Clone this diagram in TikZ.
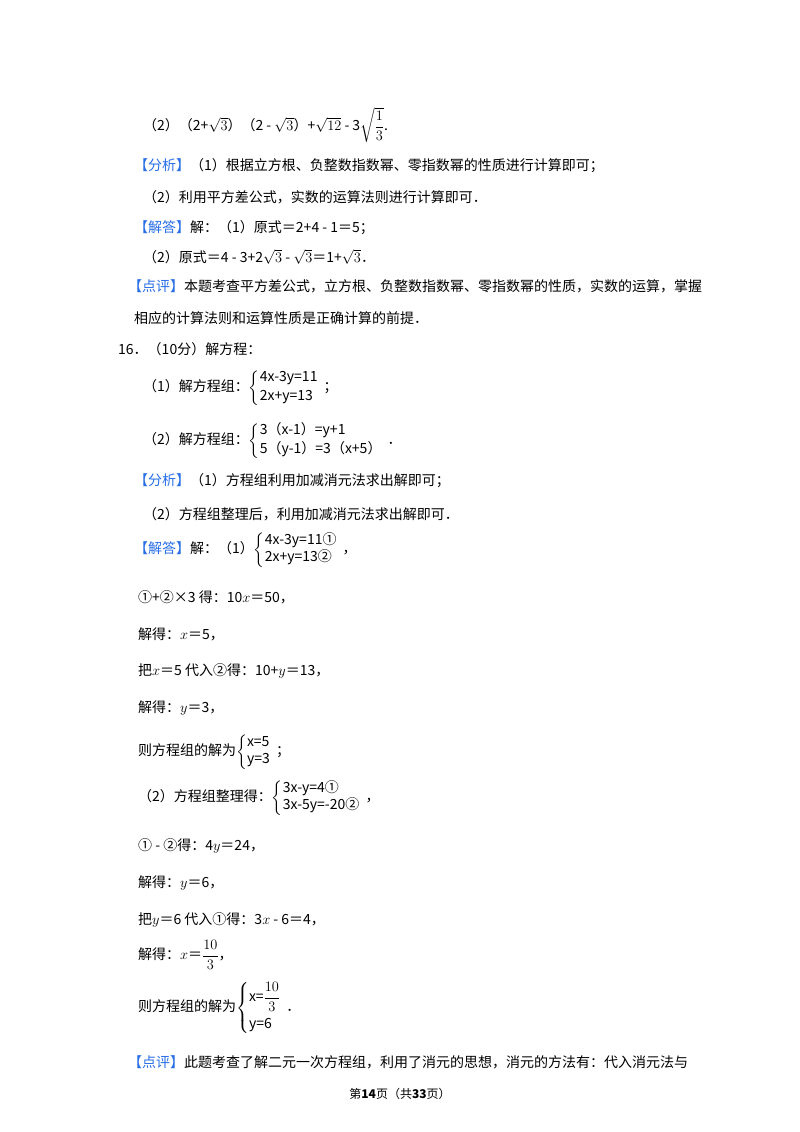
\documentclass[tikz,border=0pt]{standalone}
\usepackage{amsmath}
\usepackage{fontspec}
\setmainfont{Noto Sans CJK SC}
\definecolor{hl}{RGB}{40,110,230}
\begin{document}
\begin{tikzpicture}[x=1pt,y=-1pt,
  t/.style={anchor=west,inner sep=0pt,font=\fontsize{14}{17}\selectfont}]
\useasboundingbox[fill=white] (0,0) rectangle (800,1132);
\newcommand{\hb}[1]{\textcolor{hl}{【#1】}}
\node[t] (l1) at (143,125) {（2）（2+$\sqrt{3}$）（2 - $\sqrt{3}$）+$\sqrt{12}$ - 3$\sqrt{\dfrac{1}{3}}$.};
\node[t] (l2) at (134,166) {\hb{分析}（1）根据立方根、负整数指数幂、零指数幂的性质进行计算即可；};
\node[t] (l3) at (143,197) {（2）利用平方差公式，实数的运算法则进行计算即可．};
\node[t] (l4) at (134,228) {\hb{解答}解：（1）原式＝2+4 - 1＝5；};
\node[t] (l5) at (143,257) {（2）原式＝4 - 3+2$\sqrt{3}$ - $\sqrt{3}$＝1+$\sqrt{3}$．};
\node[t] (l6) at (128,286) {\hb{点评}本题考查平方差公式，立方根、负整数指数幂、零指数幂的性质，实数的运算，掌握};
\node[t] (l7) at (134,318) {相应的计算法则和运算性质是正确计算的前提．};
\node[t] (l8) at (118,349) {16．（10分）解方程：};
\node[t] (l9) at (143,388) {（1）解方程组：$\left\{\begin{array}{@{}l}\text{4x-3y=11}\\[2pt] \text{2x+y=13}\end{array}\right.$；};
\node[t] (l10) at (143,441) {（2）解方程组：$\left\{\begin{array}{@{}l}\text{3（x-1）=y+1}\\[2pt] \text{5（y-1）=3（x+5）}\end{array}\right.$．};
\node[t] (l11) at (134,481) {\hb{分析}（1）方程组利用加减消元法求出解即可；};
\node[t] (l12) at (143,514) {（2）方程组整理后，利用加减消元法求出解即可．};
\node[t] (l13) at (134,550) {\hb{解答}解：（1）$\left\{\begin{array}{@{}l}\text{4x-3y=11①}\\ \text{2x+y=13②}\end{array}\right.$，};
\node[t] (l14) at (138,597) {①+②×3 得：10$x$＝50，};
\node[t] (l15) at (138,634) {解得：$x$＝5，};
\node[t] (l16) at (138,671) {把$x$＝5 代入②得：10+$y$＝13，};
\node[t] (l17) at (138,708) {解得：$y$＝3，};
\node[t] (l18) at (138,752) {则方程组的解为$\left\{\begin{array}{@{}l}\text{x=5}\\ \text{y=3}\end{array}\right.$；};
\node[t] (l19) at (138,798) {（2）方程组整理得：$\left\{\begin{array}{@{}l}\text{3x-y=4①}\\ \text{3x-5y=-20②}\end{array}\right.$，};
\node[t] (l20) at (138,846) {① - ②得：4$y$＝24，};
\node[t] (l21) at (138,883) {解得：$y$＝6，};
\node[t] (l22) at (138,920) {把$y$＝6 代入①得：3$x$ - 6＝4，};
\node[t] (l23) at (138,955) {解得：$x$＝$\dfrac{10}{3}$，};
\node[t] (l24) at (138,1008) {则方程组的解为$\left\{\begin{array}{@{}l}\text{x=}\dfrac{10}{3}\\[10pt] \text{y=6}\end{array}\right.$．};
\node[t] (l25) at (128,1062) {\hb{点评}此题考查了解二元一次方程组，利用了消元的思想，消元的方法有：代入消元法与};
\node[anchor=center,inner sep=0pt,font=\fontsize{12}{14}\selectfont] (ft) at (400,1094) {第\textbf{14}页（共\textbf{33}页）};
\end{tikzpicture}
\end{document}
